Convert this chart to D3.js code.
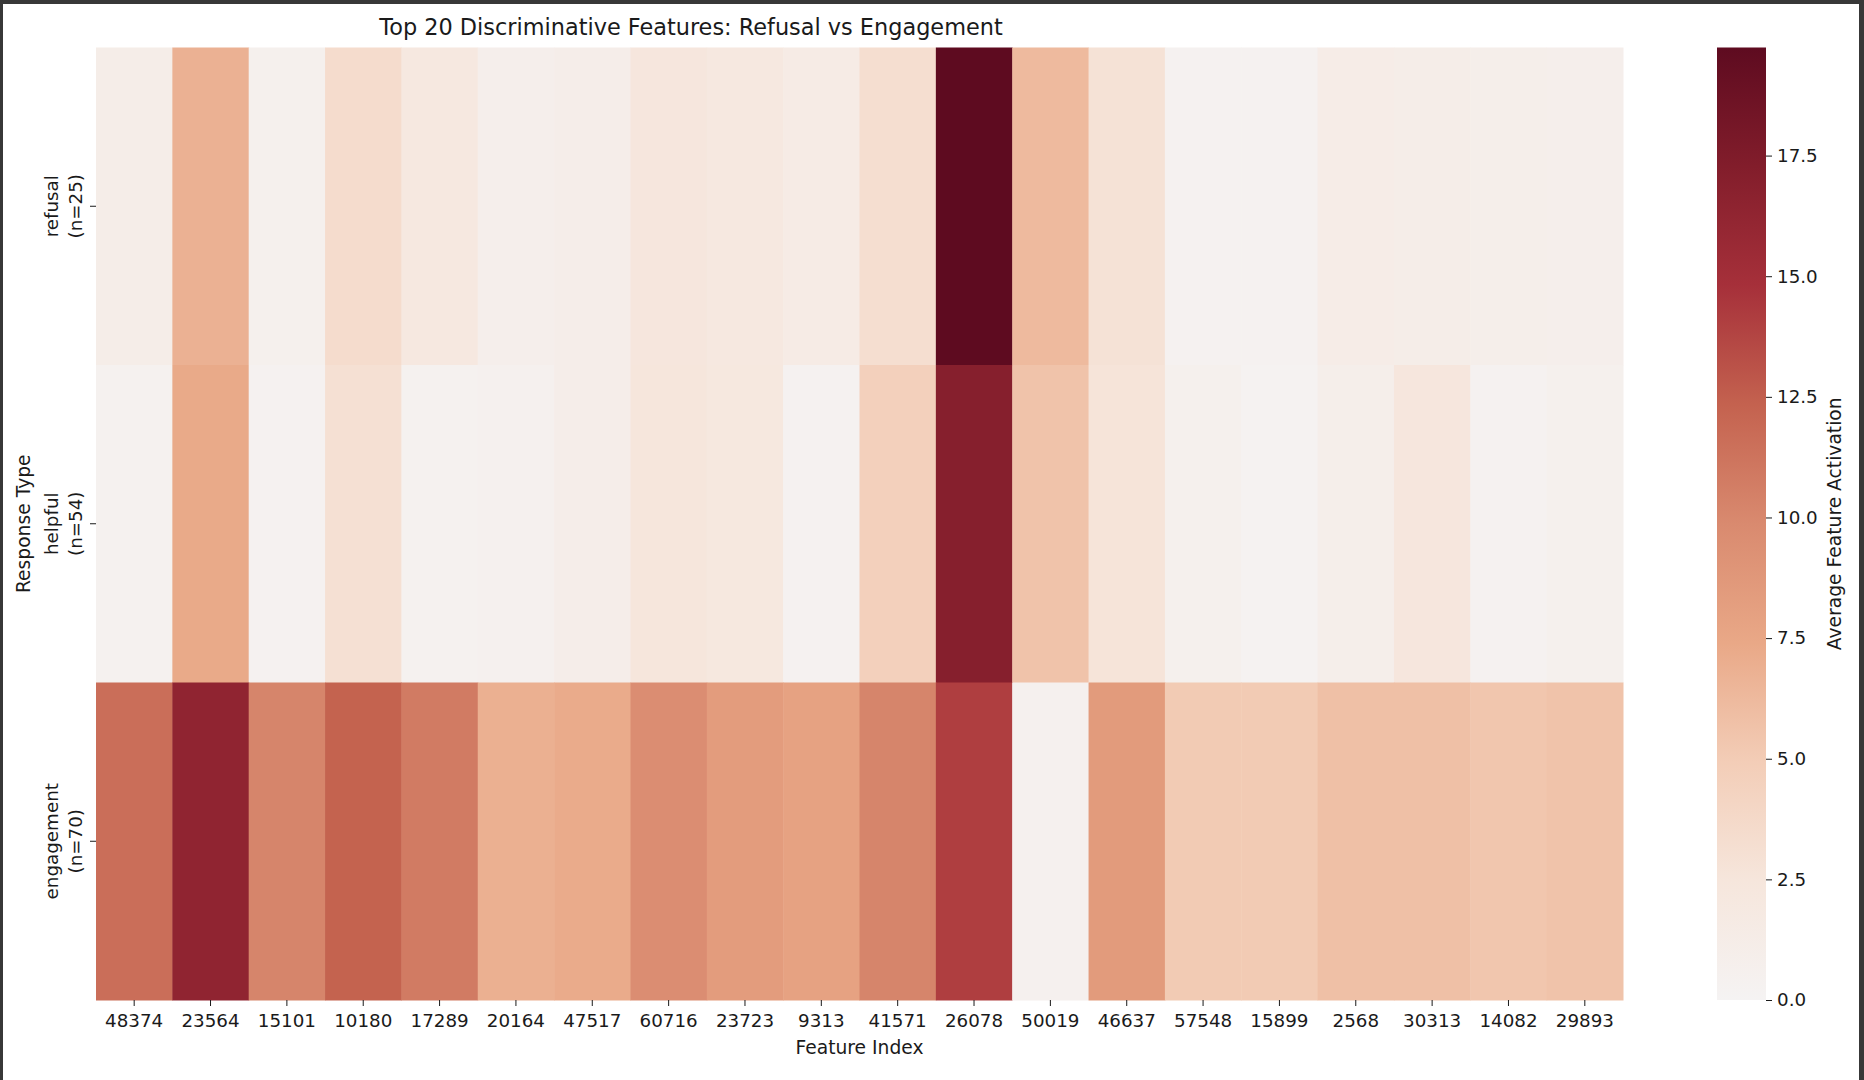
<!DOCTYPE html>
<html>
<head>
<meta charset="utf-8">
<script src="https://cdn.jsdelivr.net/npm/d3@7"></script>
<style>
  body { margin: 0; background: #ffffff; }
  text { font-family: "DejaVu Sans", sans-serif; fill: #1a1a1a; }
</style>
</head>
<body>
<script>
var width = 1864, height = 1080;

// heatmap box (pixels)
var hm_left = 96, hm_right = 1623, hm_top = 47.5, hm_bottom = 1000;
var cb_left = 1717, cb_right = 1766;
var label_size = '18.7px', tick_size = '18.3px', title_size = '22.4px';

var features = ['48374','23564','15101','10180','17289','20164','47517','60716','23723','9313',
                '41571','26078','50019','46637','57548','15899','2568','30313','14082','29893'];
var groups = ['refusal', 'helpful', 'engagement'];
var group_n = [25, 54, 70];

// average activation per group
var refusal_vals    = [1.2, 6.8, 0.6, 3.5, 2.0, 0.9, 1.1, 2.4, 2.0, 1.5, 3.3, 19.74, 6.2, 2.9, 0.3, 0.3, 1.3, 1.2, 1.0, 0.9];
var helpful_vals    = [0.4, 7.3, 0.3, 3.1, 0.4, 0.5, 1.1, 2.5, 2.1, 0.3, 4.6, 17.0, 5.6, 2.7, 0.6, 0.2, 1.0, 2.4, 0.3, 0.6];
var engagement_vals = [11.6, 16.3, 10.2, 12.3, 10.8, 6.9, 7.2, 9.6, 8.4, 7.9, 10.2, 14.1, 0.5, 8.5, 5.1, 5.1, 5.8, 5.8, 5.4, 5.6];

var cb_ticks = [0, 2.5, 5, 7.5, 10, 12.5, 15, 17.5];

// colormap (upper half of a red diverging map)
var cmap_stops  = [0, 0.125, 0.25, 0.375, 0.5, 0.625, 0.75, 0.875, 1];
var cmap_colors = ['#f5f3f3', '#f6e6dc', '#f3cdb7', '#e9a887', '#d98a6f', '#c4624f', '#a6303a', '#821d2b', '#5e0b20'];

var rows = [refusal_vals, helpful_vals, engagement_vals];
var cells = [];
rows.forEach(function(r, i) {
	r.forEach(function(v, j) { cells.push({group: groups[i], feature: features[j], value: v}); });
});

var vmax = d3.max(cells, d => d.value);
var colorScale = d3.scaleLinear()
	.domain(cmap_stops.map(s => s*vmax))
	.range(cmap_colors)
	.interpolate(d3.interpolateRgb)
	.clamp(true);

var svg = d3.select('body').append('svg').attr('width', width).attr('height', height);

// dark frame from the notebook screenshot
svg.append('rect').attr('x', 0).attr('y', 0).attr('width', width).attr('height', 4).attr('fill', '#383838');
svg.append('rect').attr('x', 0).attr('y', 0).attr('width', 3).attr('height', height).attr('fill', '#383838');
svg.append('rect').attr('x', 1859).attr('y', 0).attr('width', 5).attr('height', height).attr('fill', '#383838');

var xScale = d3.scaleBand().domain(features).range([hm_left, hm_right]);
var yScale = d3.scaleBand().domain(groups).range([hm_top, hm_bottom]);

// cells
svg.append('g').attr('class', 'cells')
  .selectAll('rect').data(cells)
	.enter().append('rect')
	.attr('x', d => xScale(d.feature))
	.attr('y', d => yScale(d.group))
	.attr('width', xScale.bandwidth() + 0.5)
	.attr('height', yScale.bandwidth() + 0.5)
	.attr('fill', d => colorScale(d.value));

// x axis
var xAxis = svg.append('g')
	.attr('transform', 'translate(0,' + hm_bottom + ')')
	.call(d3.axisBottom(xScale).tickSize(6).tickPadding(8));
xAxis.select('.domain').remove();
xAxis.selectAll('line').attr('stroke', '#1a1a1a').attr('stroke-width', 1);
xAxis.selectAll('text').style('font-size', tick_size).style('font-family', '"DejaVu Sans", sans-serif').attr('fill', '#1a1a1a');

// y axis
var yAxis = svg.append('g')
	.attr('transform', 'translate(' + hm_left + ',0)')
	.call(d3.axisLeft(yScale).tickSize(6).tickFormat(''));
yAxis.select('.domain').remove();
yAxis.selectAll('line').attr('stroke', '#1a1a1a').attr('stroke-width', 1);

groups.forEach(function(g, i) {
	var cy = yScale(g) + yScale.bandwidth()/2;
	var t = svg.append('text')
		.attr('transform', 'translate(' + 63 + ',' + cy + ') rotate(-90)')
		.attr('text-anchor', 'middle')
		.attr('dominant-baseline', 'central')
		.style('font-size', tick_size);
	t.append('tspan').attr('x', 0).attr('y', -12).text(g);
	t.append('tspan').attr('x', 0).attr('y', 12).text('(n=' + group_n[i] + ')');
});

// axis titles
svg.append('text')
	.attr('x', (hm_left + hm_right)/2)
	.attr('y', 1054)
	.attr('text-anchor', 'middle')
	.style('font-size', label_size)
	.text('Feature Index');

svg.append('text')
	.attr('transform', 'translate(30,' + (hm_top + hm_bottom)/2 + ') rotate(-90)')
	.attr('text-anchor', 'middle')
	.style('font-size', label_size)
	.text('Response Type');

svg.append('text')
	.attr('x', 691)
	.attr('y', 35)
	.attr('text-anchor', 'middle')
	.style('font-size', title_size)
	.text('Top 20 Discriminative Features: Refusal vs Engagement');

// colorbar
var cbScale = d3.scaleLinear().domain([0, vmax]).range([hm_bottom, hm_top]);
var grad = svg.append('defs').append('linearGradient')
	.attr('id', 'cbgrad')
	.attr('x1', 0).attr('y1', 1).attr('x2', 0).attr('y2', 0);
grad.selectAll('stop').data(cmap_stops)
	.enter().append('stop')
	.attr('offset', d => d)
	.attr('stop-color', (d, i) => cmap_colors[i]);

svg.append('rect')
	.attr('x', cb_left)
	.attr('y', cbScale(vmax))
	.attr('width', cb_right - cb_left)
	.attr('height', cbScale(0) - cbScale(vmax))
	.attr('fill', 'url(#cbgrad)');

var cbAxis = svg.append('g')
	.attr('transform', 'translate(' + cb_right + ',0)')
	.call(d3.axisRight(cbScale).tickValues(cb_ticks).tickFormat(d3.format('.1f')).tickSize(6).tickPadding(5));
cbAxis.select('.domain').remove();
cbAxis.selectAll('line').attr('stroke', '#1a1a1a');
cbAxis.selectAll('text').style('font-size', tick_size).style('font-family', '"DejaVu Sans", sans-serif').attr('fill', '#1a1a1a');

svg.append('text')
	.attr('transform', 'translate(1841,' + (hm_top + hm_bottom)/2 + ') rotate(-90)')
	.attr('text-anchor', 'middle')
	.style('font-size', label_size)
	.text('Average Feature Activation');
</script>
</body>
</html>
